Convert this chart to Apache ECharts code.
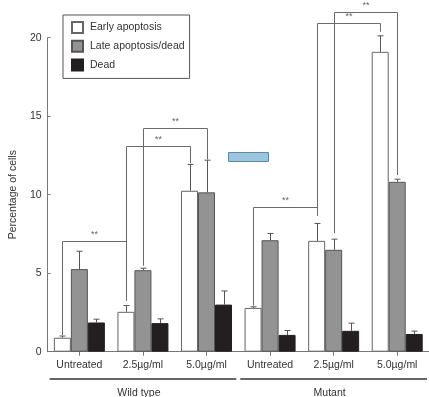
<!DOCTYPE html>
<html><head><meta charset="utf-8">
<script src="https://cdn.jsdelivr.net/npm/echarts@6/dist/echarts.min.js"></script>
<style>html,body{margin:0;padding:0;background:#fff}#c{width:429px;height:397px}</style>
</head><body><div id="c"></div>
<script>
const categories = ['Untreated', '2.5\u00b5g/ml', '5.0\u00b5g/ml', 'Untreated', '2.5\u00b5g/ml', '5.0\u00b5g/ml'];
const groups = ['Wild type', 'Mutant'];
const seriesNames = ['Early apoptosis', 'Late apoptosis/dead', 'Dead'];
const early = [0.89, 2.54, 10.25, 2.79, 7.06, 19.1];
const earlyErr = [0.11, 0.40, 1.68, 0.07, 1.11, 1.02];
const late = [5.26, 5.19, 10.15, 7.10, 6.49, 10.82];
const lateErr = [1.14, 0.13, 2.05, 0.43, 0.68, 0.17];
const dead = [1.86, 1.82, 3.0, 1.07, 1.33, 1.13];
const deadErr = [0.21, 0.27, 0.87, 0.28, 0.49, 0.18];
const yTicks = [0, 5, 10, 15, 20];
// significance brackets: [cat, series, end value] for each leg, plus top value
const brackets = [
  { a: [0, 0, 1.06], b: [1, 0, 3.25], top: 7.05, label: '**' },
  { a: [1, 0, 3.25], b: [2, 0, 12.0], top: 13.12, label: '**' },
  { a: [1, 1, 5.48], b: [2, 1, 12.25], top: 14.27, label: '**' },
  { a: [3, 0, 2.93], b: [4, 0, 8.66], top: 9.2, label: '**' },
  { a: [4, 0, 8.66], b: [5, 0, 20.38], top: 20.96, label: '**' },
  { a: [4, 1, 7.54], b: [5, 1, 11.25], top: 21.66, label: '**' }
];

const BAR_W = 17;
const FONT = 'Liberation Sans, Arial, sans-serif';
const vals = [early, late, dead];
const errs = [earlyErr, lateErr, deadErr];
const fills = ['#ffffff', '#939393', '#231f20'];
const borders = ['#666666', '#555555', '#231f20'];

function off(s) { return (s - 1) * BAR_W; }

const errData = [];
for (let s = 0; s < 3; s++) for (let i = 0; i < categories.length; i++) errData.push([i, vals[s][i], vals[s][i] + errs[s][i], s]);

const chart = echarts.init(document.getElementById('c'));
const option = {
  animation: false,
  grid: { left: 44, right: -10, top: 37.7, bottom: 45.3 },
  legend: {
    data: seriesNames, orient: 'vertical', left: 63, top: 15,
    icon: 'rect', itemWidth: 11, itemHeight: 11, itemGap: 5.7,
    padding: [6, 5, 7, 8], borderColor: '#555', borderWidth: 1,
    textStyle: { fontFamily: FONT, fontSize: 10.5, lineHeight: 11, color: '#333', padding: [0, 0, 0, 2] }
  },
  xAxis: {
    type: 'category', data: categories,
    axisLine: { lineStyle: { color: '#777', width: 1 } },
    axisTick: { show: true, alignWithLabel: true, length: 4, lineStyle: { color: '#777' } },
    axisLabel: { fontFamily: FONT, fontSize: 10.5, color: '#333', margin: 8 }
  },
  yAxis: {
    type: 'value', min: 0, max: 20, interval: 5,
    name: 'Percentage of cells', nameLocation: 'middle', nameGap: 20,
    nameTextStyle: { fontFamily: FONT, fontSize: 10.5, color: '#333' },
    axisLine: { show: true, lineStyle: { color: '#777', width: 1 } },
    axisTick: { show: true, inside: true, length: 3, lineStyle: { color: '#777' } },
    axisLabel: { fontFamily: FONT, fontSize: 10.5, color: '#333', margin: 6,
      formatter: v => yTicks.includes(v) ? String(v) : '' },
    splitLine: { show: false }
  },
  series: [
    ...seriesNames.map((n, s) => ({
      name: n, type: 'bar', data: vals[s], barWidth: BAR_W, barGap: '0%',
      itemStyle: { color: fills[s], borderColor: borders[s], borderWidth: 1 }
    })),
    {
      type: 'custom', data: errData, z: 5, clip: false, silent: true,
      renderItem: function (params, api) {
        const c = api.value(0), v = api.value(1), t = api.value(2), s = api.value(3);
        const p0 = api.coord([c, v]), p1 = api.coord([c, t]);
        const x = Math.round(p0[0] + off(s)) + 0.5;
        return { type: 'group', children: [
          { type: 'line', shape: { x1: x, y1: p0[1], x2: x, y2: p1[1] }, style: { stroke: '#555', lineWidth: 1 } },
          { type: 'line', shape: { x1: x - 3, y1: p1[1], x2: x + 3, y2: p1[1] }, style: { stroke: '#555', lineWidth: 1 } }
        ] };
      }
    },
    {
      type: 'custom', data: brackets.map((b, i) => [i]), z: 6, clip: false, silent: true,
      renderItem: function (params, api) {
        const b = brackets[params.dataIndex];
        const pa = api.coord([b.a[0], b.a[2]]), pb = api.coord([b.b[0], b.b[2]]);
        const pt = api.coord([b.a[0], b.top]);
        const xa = Math.round(pa[0] + off(b.a[1])) + 0.5, xb = Math.round(pb[0] + off(b.b[1])) + 0.5;
        const yt = Math.round(pt[1]) + 0.5;
        return { type: 'group', children: [
          { type: 'polyline', shape: { points: [[xa, pa[1]], [xa, yt], [xb, yt], [xb, pb[1]]] }, style: { stroke: '#6a6a6a', lineWidth: 1, fill: null } },
          { type: 'text', style: { text: b.label, x: (xa + xb) / 2, y: yt - 2, align: 'center', verticalAlign: 'bottom', fontSize: 9, fontFamily: FONT, fill: '#666' } }
        ] };
      }
    }
  ]
};
chart.setOption(option);

// group lines and labels under the categories
const gfx = [];
const catW = chart.convertToPixel({ xAxisIndex: 0 }, 1) - chart.convertToPixel({ xAxisIndex: 0 }, 0);
groups.forEach((g, gi) => {
  const c0 = chart.convertToPixel({ xAxisIndex: 0 }, gi * 3);
  const c2 = chart.convertToPixel({ xAxisIndex: 0 }, gi * 3 + 2);
  const xl = c0 - catW / 2 + 2, xr = c2 + catW / 2 - 2;
  const cm = chart.convertToPixel({ xAxisIndex: 0 }, gi * 3 + 1);
  gfx.push({ type: 'line', shape: { x1: xl, y1: 379, x2: xr, y2: 379 }, style: { stroke: '#333', lineWidth: 1.6 } });
  gfx.push({ type: 'text', style: { text: g, x: cm - 4, y: 393, align: 'center', verticalAlign: 'middle', fontSize: 10.5, fontFamily: FONT, fill: '#333' } });
});
gfx.push({ type: 'rect', shape: { x: 228.5, y: 152.5, width: 40, height: 9 }, style: { fill: '#9bc5df', stroke: '#5b8aa6', lineWidth: 1 } });
chart.setOption({ graphic: gfx });
</script></body></html>
